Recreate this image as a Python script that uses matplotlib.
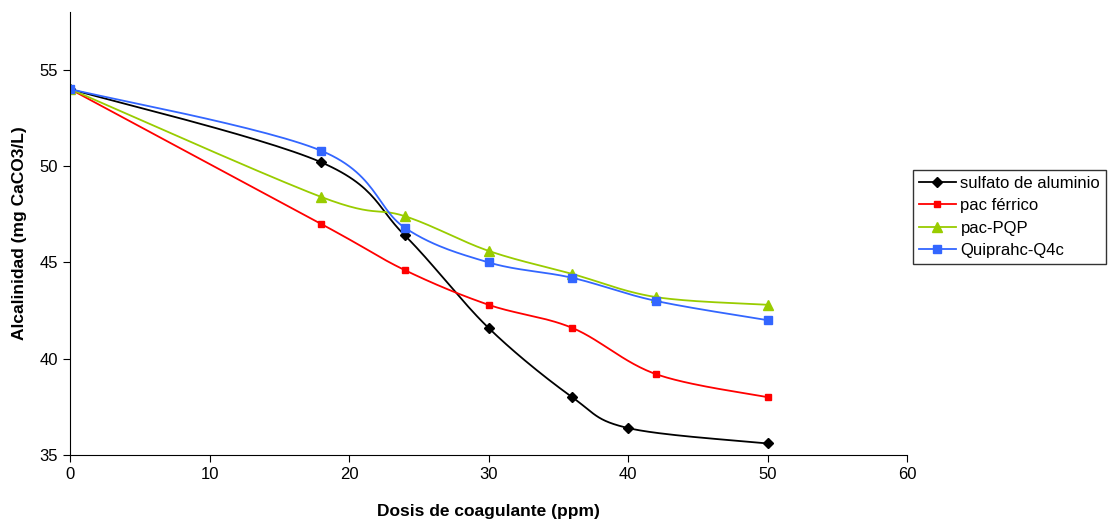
import numpy as np
import matplotlib
matplotlib.use("Agg")
import matplotlib.pyplot as plt

plt.rcParams['font.family'] = ['Liberation Sans', 'DejaVu Sans']

x_sulfato = [0, 18, 24, 30, 36, 40, 50]
y_sulfato = [54, 50.2, 46.4, 41.6, 38.0, 36.4, 35.6]
x_pac = [0, 18, 24, 30, 36, 42, 50]
y_pac = [54, 47.0, 44.6, 42.8, 41.6, 39.2, 38.0]
x_pqp = [0, 18, 24, 30, 36, 42, 50]
y_pqp = [54, 48.4, 47.4, 45.6, 44.4, 43.2, 42.8]
x_qui = [0, 18, 24, 30, 36, 42, 50]
y_qui = [54, 50.8, 46.8, 45.0, 44.2, 43.0, 42.0]

series = [
    ("sulfato de aluminio", x_sulfato, y_sulfato, "black", "D", 5),
    ("pac férrico", x_pac, y_pac, "#FF0000", "s", 4),
    ("pac-PQP", x_pqp, y_pqp, "#99CC00", "^", 6.5),
    ("Quiprahc-Q4c", x_qui, y_qui, "#3366FF", "s", 6),
]


def smooth(xs, ys, n=30):
    P = np.column_stack([xs, ys]).astype(float)
    out = []
    for i in range(len(P) - 1):
        p0 = P[i - 1] if i > 0 else P[i]
        p1 = P[i]
        p2 = P[i + 1]
        p3 = P[i + 2] if i + 2 < len(P) else P[i + 1]
        c1 = p1 + (p2 - p0) / 6.0
        c2 = p2 - (p3 - p1) / 6.0
        t = np.linspace(0, 1, n)[:, None]
        seg = ((1 - t) ** 3) * p1 + 3 * ((1 - t) ** 2) * t * c1 + 3 * (1 - t) * t ** 2 * c2 + t ** 3 * p2
        out.append(seg if i == 0 else seg[1:])
    s = np.vstack(out)
    return s[:, 0], s[:, 1]


fig = plt.figure(figsize=(11.17, 5.27), dpi=100)
ax = fig.add_axes([70 / 1117, 1 - 455 / 527, (907 - 70) / 1117, (455 - 12) / 527])

for name, xs, ys, c, m, ms in series:
    sx, sy = smooth(xs, ys)
    ax.plot(sx, sy, color=c, lw=1.3)
    ax.plot(xs, ys, linestyle='none', marker=m, color=c, markersize=ms)
    ax.plot([], [], color=c, lw=1.3, marker=m, markersize=ms, label=name)

ax.set_xlim(0, 60)
ax.set_ylim(35, 58)
ax.set_xticks([0, 10, 20, 30, 40, 50, 60])
ax.set_yticks([35, 40, 45, 50, 55])
ax.spines['top'].set_visible(False)
ax.spines['right'].set_visible(False)
ax.tick_params(direction='out', length=5, labelsize=12, colors='black')
ax.set_xlabel("Dosis de coagulante (ppm)", fontsize=12.5, fontweight='bold', labelpad=16)
ax.set_ylabel("Alcalinidad (mg CaCO3/L)", fontsize=12.5, fontweight='bold', labelpad=9)

leg = ax.legend(loc='upper left', bbox_to_anchor=(913 / 1117, 1 - 170 / 527), bbox_transform=fig.transFigure,
                frameon=True, fancybox=False, edgecolor='black', fontsize=12, handlelength=2.2,
                borderpad=0.35, labelspacing=0.45, handletextpad=0.3, borderaxespad=0)
leg.get_frame().set_linewidth(1.0)

fig.savefig("out.png", dpi=100)
